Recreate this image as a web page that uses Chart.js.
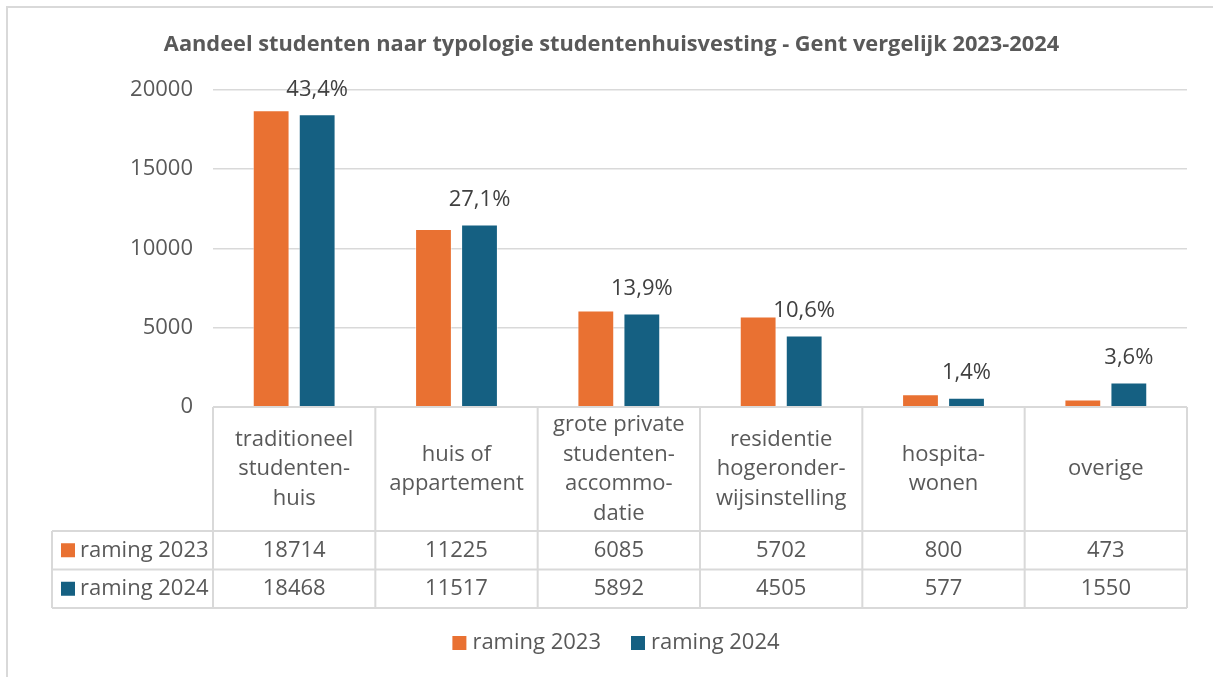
<!DOCTYPE html>
<html>
<head>
<meta charset="utf-8">
<script src="https://cdn.jsdelivr.net/npm/chart.js@4/dist/chart.umd.min.js"></script>
<style>
html,body{margin:0;padding:0;background:#fff;}
#wrap{width:1213px;height:677px;position:relative;}
</style>
</head>
<body>
<div id="wrap"><canvas id="c" width="1213" height="677"></canvas></div>
<script>
const titleText = 'Aandeel studenten naar typologie studentenhuisvesting - Gent vergelijk 2023-2024';
const categories = [
  ['traditioneel', 'studenten-', 'huis'],
  ['huis of', 'appartement'],
  ['grote private', 'studenten-', 'accommo-', 'datie'],
  ['residentie', 'hogeronder-', 'wijsinstelling'],
  ['hospita-', 'wonen'],
  ['overige']
];
const seriesNames = ['raming 2023', 'raming 2024'];
const values2023 = [18714, 11225, 6085, 5702, 800, 473];
const values2024 = [18468, 11517, 5892, 4505, 577, 1550];
const shareLabels2024 = ['43,4%', '27,1%', '13,9%', '10,6%', '1,4%', '3,6%'];
const yMin = 0, yMax = 20000, yStep = 5000;

const colors = ['#E97132', '#156082'];
const textColor = '#595959';
const lineColor = '#d9d9d9';
const FONT = '"Open Sans", "Noto Sans", sans-serif';
const FS = 22;

const tablePlugin = {
  id: 'tablePlugin',
  afterDatasetsDraw(chart) {
    const ctx = chart.ctx;
    const meta = chart.getDatasetMeta(1);
    ctx.save();
    ctx.fillStyle = '#404040';
    ctx.font = FS + 'px ' + FONT;
    ctx.textAlign = 'center';
    ctx.textBaseline = 'middle';
    meta.data.forEach((bar, i) => {
      ctx.fillText(shareLabels2024[i], bar.x, bar.y - 25);
    });
    ctx.restore();
  },
  afterDraw(chart) {
    const ctx = chart.ctx;
    const area = chart.chartArea;
    const x = chart.scales.x;
    const n = categories.length;
    const colW = (area.right - area.left) / n;
    const headerTop = area.bottom;
    const headerBottom = headerTop + 124;
    const rowH = 38.5;
    const leftX = 52;
    ctx.save();
    // outer chart border
    ctx.strokeStyle = lineColor;
    ctx.lineWidth = 2;
    ctx.strokeRect(7, 7, 1300, 800);
    // table lines
    ctx.beginPath();
    ctx.moveTo(area.left, headerTop); ctx.lineTo(area.right, headerTop);
    for (let r = 0; r <= seriesNames.length; r++) {
      const y = headerBottom + r * rowH;
      ctx.moveTo(leftX, y); ctx.lineTo(area.right, y);
    }
    const tableBottom = headerBottom + seriesNames.length * rowH;
    for (let k = 0; k <= n; k++) {
      const xx = area.left + k * colW;
      ctx.moveTo(xx, headerTop); ctx.lineTo(xx, tableBottom);
    }
    ctx.moveTo(leftX, headerBottom); ctx.lineTo(leftX, tableBottom);
    ctx.stroke();
    // header texts
    ctx.fillStyle = textColor;
    ctx.font = FS + 'px ' + FONT;
    ctx.textAlign = 'center';
    ctx.textBaseline = 'middle';
    const lh = 29.5;
    const hc = (headerTop + headerBottom) / 2;
    categories.forEach((lines, i) => {
      const cx = x.getPixelForValue(i);
      const y0 = hc - (lines.length - 1) * lh / 2;
      lines.forEach((t, j) => ctx.fillText(t, cx, y0 + j * lh));
    });
    // rows
    const rows = [values2023, values2024];
    rows.forEach((vals, r) => {
      const cy = headerBottom + r * rowH + rowH / 2;
      ctx.fillStyle = colors[r];
      ctx.fillRect(61, cy - 7, 14, 14);
      ctx.fillStyle = textColor;
      ctx.textAlign = 'left';
      ctx.fillText(seriesNames[r], 80, cy);
      ctx.textAlign = 'center';
      vals.forEach((v, i) => ctx.fillText(String(v), x.getPixelForValue(i), cy));
    });
    // legend
    const box = 14, gapBT = 6, gapItem = 30;
    const widths = seriesNames.map(s => ctx.measureText(s).width);
    const total = widths.reduce((a, w) => a + box + gapBT + w, 0) + gapItem * (seriesNames.length - 1);
    let lx = 616 - total / 2;
    const ly = 643;
    ctx.textAlign = 'left';
    seriesNames.forEach((s, i) => {
      ctx.fillStyle = colors[i];
      ctx.fillRect(lx, ly - 7, box, box);
      lx += box + gapBT;
      ctx.fillStyle = textColor;
      ctx.fillText(s, lx, ly);
      lx += widths[i] + gapItem;
    });
    ctx.restore();
  }
};

new Chart(document.getElementById('c'), {
  type: 'bar',
  data: {
    labels: categories.map(c => c.join(' ')),
    datasets: [
      { label: seriesNames[0], data: values2023, backgroundColor: colors[0], borderColor: 'rgba(255,255,255,0.5)', borderWidth: 1, categoryPercentage: 0.567, barPercentage: 0.8 },
      { label: seriesNames[1], data: values2024, backgroundColor: colors[1], borderColor: 'rgba(255,255,255,0.5)', borderWidth: 1, categoryPercentage: 0.567, barPercentage: 0.8 }
    ]
  },
  options: {
    responsive: false,
    animation: false,
    layout: { padding: { left: 36, right: 26, top: 0, bottom: 0 } },
    plugins: {
      title: {
        display: true,
        text: titleText,
        color: textColor,
        font: { family: FONT, size: 21.8, weight: 'bold' },
        padding: { top: 31.5, bottom: 32.3 }
      },
      legend: { display: false },
      tooltip: { enabled: false }
    },
    scales: {
      x: {
        grid: { display: false },
        border: { display: false },
        ticks: { display: false },
        afterFit(scale) { scale.height = 270; }
      },
      y: {
        min: yMin, max: yMax,
        ticks: { stepSize: yStep, color: textColor, font: { family: FONT, size: FS }, padding: 20,
                 callback: v => String(v) },
        grid: { color: lineColor, lineWidth: 1.5, drawTicks: false },
        border: { display: false },
        afterFit(scale) { scale.width = 177; }
      }
    }
  },
  plugins: [tablePlugin]
});
</script>
</body>
</html>
